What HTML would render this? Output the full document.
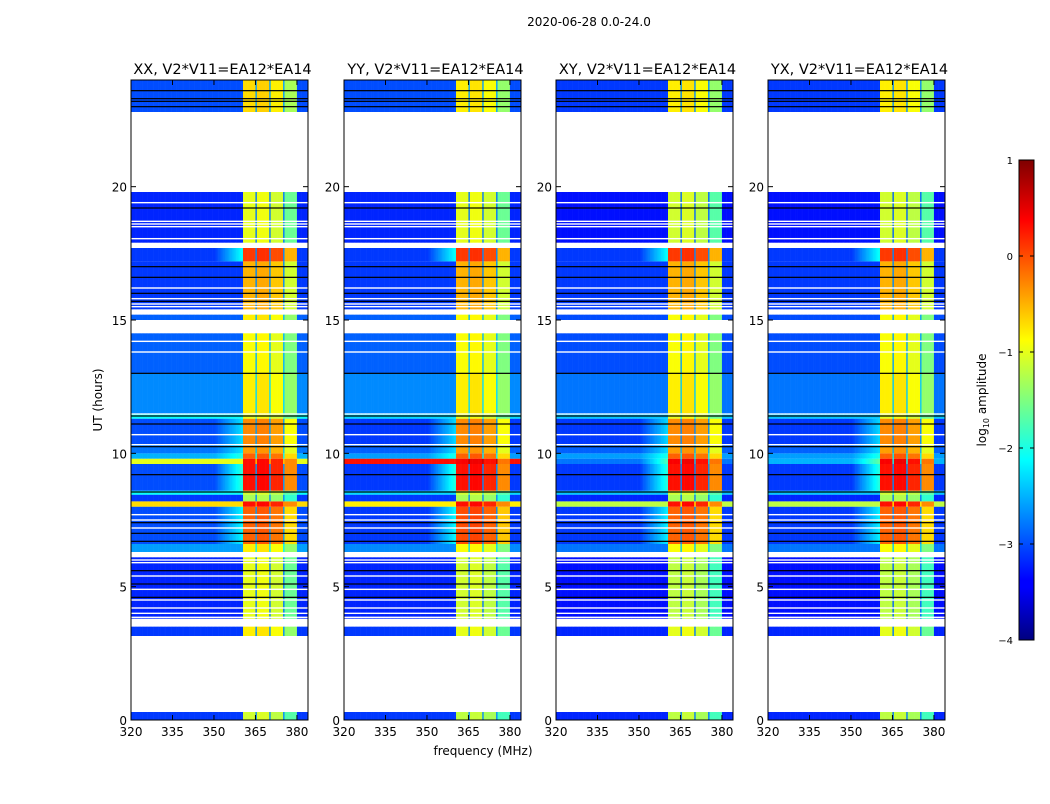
<!DOCTYPE html>
<html><head><meta charset="utf-8">
<style>
body{margin:0;background:#fff;width:1050px;height:800px;overflow:hidden;font-family:"DejaVu Sans","Liberation Sans",sans-serif;}
svg text{font-family:"DejaVu Sans","Liberation Sans",sans-serif;}
</style></head>
<body>
<svg id="chart" width="1050" height="800" xmlns="http://www.w3.org/2000/svg">
<defs>
<linearGradient id="jetGrad" x1="0" y1="1" x2="0" y2="0">
<stop offset="0" stop-color="#00007f"/><stop offset="0.11" stop-color="#0000ff"/>
<stop offset="0.125" stop-color="#0000ff"/><stop offset="0.375" stop-color="#00ffff"/>
<stop offset="0.5" stop-color="#7fff7f"/><stop offset="0.625" stop-color="#ffff00"/>
<stop offset="0.875" stop-color="#ff0000"/><stop offset="1" stop-color="#7f0000"/>
</linearGradient>
</defs>
<text x="589" y="26" font-size="12" text-anchor="middle">2020-06-28 0.0-24.0</text>
<g id="panels"></g>
<text x="0" y="0" font-size="12" text-anchor="middle" transform="translate(102,400) rotate(-90)">UT (hours)</text>
<text x="483" y="755" font-size="12" text-anchor="middle">frequency (MHz)</text>
<g>
<rect x="1019" y="160" width="15" height="480" fill="url(#jetGrad)" stroke="#000" stroke-width="1"/>
<g id="cbticks"></g>
<text font-size="12" text-anchor="middle" transform="translate(986,400) rotate(-90)">log<tspan font-size="8" dy="3">10</tspan><tspan dy="-3"> amplitude</tspan></text>
</g>
</svg>
<script>
// ---- data ----
const panelTitles = ["XX, V2*V11=EA12*EA14","YY, V2*V11=EA12*EA14","XY, V2*V11=EA12*EA14","YX, V2*V11=EA12*EA14"];
const segStart = [0.0,3.15,3.8,6.3,6.6,8.0,8.2,8.45,8.6,9.6,9.8,10.0,10.35,11.3,11.5,13.0,15.0,15.4,17.2,17.9,22.8];
const segEnd   = [0.3,3.5,6.1,6.6,8.0,8.2,8.45,8.6,9.6,9.8,10.0,10.3,11.3,11.45,13.0,14.5,15.2,17.2,17.7,19.8,24.0];
const bgXX   = [-3.1,-3.1,-3.2,-2.6,-3.0,-0.7,-3.1,-2.1,-3.0,-1.0,-2.5,-2.8,-3.0,-2.1,-2.7,-2.9,-2.9,-3.1,-3.1,-3.2,-3.0];
const bandXX = [-1.1,-0.8,-1.0,-0.8,-0.1,0.3,-1.3,-1.1,0.3,0.3,-0.1,-0.4,-0.3,-1.0,-0.8,-0.9,-0.8,-0.5,0.1,-1.0,-0.7];
const bgYY   = [-3.1,-3.1,-3.2,-2.7,-3.1,-0.8,-3.1,-2.3,-3.1,0.3,-2.6,-2.9,-3.1,-2.3,-2.7,-2.9,-2.9,-3.1,-3.1,-3.2,-3.0];
const bandYY = [-1.2,-1.0,-1.1,-0.9,0.0,0.3,-1.3,-1.1,0.3,0.4,-0.1,-0.4,-0.3,-1.0,-0.8,-0.9,-0.9,-0.5,0.1,-1.0,-0.8];
const bgXY   = [-3.2,-3.2,-3.3,-2.8,-3.1,-1.2,-3.2,-2.4,-3.1,-2.8,-2.6,-2.9,-3.1,-2.4,-2.8,-3.0,-3.0,-3.1,-3.1,-3.3,-3.1];
const bandXY = [-1.2,-1.0,-1.2,-0.9,-0.1,0.3,-1.3,-1.1,0.3,0.4,-0.1,-0.4,-0.3,-1.0,-0.8,-0.9,-0.9,-0.5,0.1,-1.1,-0.8];
const bgYX   = [-3.2,-3.2,-3.3,-2.8,-3.1,-1.2,-3.2,-2.4,-3.1,-2.5,-2.6,-2.9,-3.1,-2.4,-2.8,-3.0,-3.0,-3.1,-3.1,-3.3,-3.1];
const bandYX = [-1.2,-1.0,-1.2,-0.9,-0.1,0.3,-1.3,-1.1,0.3,0.4,-0.1,-0.4,-0.3,-1.0,-0.8,-0.9,-0.9,-0.5,0.1,-1.1,-0.8];
const subBandOffset = [0.0, 0.05, -0.1, -0.6];
const whiteLines = [3.85,4.0,4.2,4.5,4.9,5.4,5.9,6.0,7.2,7.5,7.7,10.7,13.8,14.2,15.5,15.6,15.8,16.2,18.05,18.5,18.6,18.7,19.4];
const blackLines = [4.6,5.1,5.6,6.7,7.0,7.4,8.55,9.2,10.25,11.1,11.4,13.0,15.7,16.0,16.6,17.0,19.2,23.0,23.2,23.3,23.6];
const yTicks = [0,5,10,15,20];
const xTicks = [320,335,350,365,380];
const cbTicks = [1,0,-1,-2,-3,-4];
const bgSets=[bgXX,bgYY,bgXY,bgYX], bandSets=[bandXX,bandYY,bandXY,bandYX];
// ---- layout ----
const panelX=[131,344,556,768], PW=177, PT=80, PH=640;
const fMin=320,fMax=384,hMax=24, vmin=-4, vmax=1;
const NS="http://www.w3.org/2000/svg";
function jet(v){let t=Math.max(0,Math.min(1,(v-vmin)/(vmax-vmin)));
 const c=x=>Math.round(255*Math.max(0,Math.min(1,x)));
 return `rgb(${c(1.5-Math.abs(4*t-3))},${c(1.5-Math.abs(4*t-2))},${c(1.5-Math.abs(4*t-1))})`;}
function mk(tag,attrs,parent){const e=document.createElementNS(NS,tag);for(const k in attrs)e.setAttribute(k,attrs[k]);parent.appendChild(e);return e;}
const root=document.getElementById('panels');
panelX.forEach((px,pi)=>{
 const xs=f=>px+(f-fMin)/(fMax-fMin)*PW;
 const ys=h=>PT+PH-h/hMax*PH;
 const g=mk('g',{},root);
 
 
 const t=mk('text',{x:px+PW/2+3,y:74,'font-size':14.5,'text-anchor':'middle'},g);
 t.textContent=panelTitles[pi];
 
 
 const bg=bgSets[pi], band=bandSets[pi];
 for(let s=0;s<segStart.length;s++){
  const y0=ys(segEnd[s]), y1=ys(segStart[s]);
  for(let f=fMin;f<fMax;f+=0.5){
   let v=bg[s];
   if(f>=360.5&&f<380){const sb=Math.min(3,Math.floor((f-360.5)/4.9));v=band[s]+subBandOffset[sb];
     if(f===365||f===370||f===375) v=bg[s]+0.4;}
   else if(f>=350&&f<360.5&&band[s]>-0.5){v=bg[s]+(f-350)/10*Math.max(0,band[s]-bg[s]-1.5)*0.6;}
   const r=mk('rect',{x:xs(f).toFixed(2),y:y0.toFixed(2),width:(PW/128+0.3).toFixed(2),height:(y1-y0).toFixed(2),fill:jet(v)},g);
   
   
  }
 }
 whiteLines.forEach(h=>{const r=mk('rect',{x:px,y:ys(h)-0.7,width:PW,height:1.4,fill:'#fff'},g);
  
  });
 blackLines.forEach(h=>{const r=mk('rect',{x:px,y:ys(h)-0.6,width:PW,height:1.2,fill:'#000'},g);
  
  });
 const fr=mk('rect',{x:px,y:PT,width:PW,height:PH,fill:'none',stroke:'#000','stroke-width':1},g);
 
 
 yTicks.forEach(v=>{const y=ys(v);
  mk('line',{x1:px,x2:px+5,y1:y,y2:y,stroke:'#000'},g);
  mk('line',{x1:px+PW-5,x2:px+PW,y1:y,y2:y,stroke:'#000'},g);
  const tl=mk('text',{x:px-4,y:y+5,'font-size':12,'text-anchor':'end'},g);tl.textContent=v;
  
  });
 xTicks.forEach(v=>{const x=xs(v);
  mk('line',{x1:x,x2:x,y1:PT+PH-5,y2:PT+PH,stroke:'#000'},g);
  mk('line',{x1:x,x2:x,y1:PT,y2:PT+5,stroke:'#000'},g);
  const tl=mk('text',{x:x,y:PT+PH+16,'font-size':12,'text-anchor':'middle'},g);tl.textContent=v;
  
  });
});
const cb=document.getElementById('cbticks');
cbTicks.forEach(v=>{const y=640-(v-vmin)/(vmax-vmin)*480;
 mk('line',{x1:1019,x2:1023,y1:y,y2:y,stroke:'#000'},cb);
 mk('line',{x1:1030,x2:1034,y1:y,y2:y,stroke:'#000'},cb);
 const tl=mk('text',{x:1013,y:y+4,'font-size':10,'text-anchor':'end'},cb);
 tl.textContent=v<0?'\u2212'+(-v):String(v);
 
 });
</script>
</body></html>
